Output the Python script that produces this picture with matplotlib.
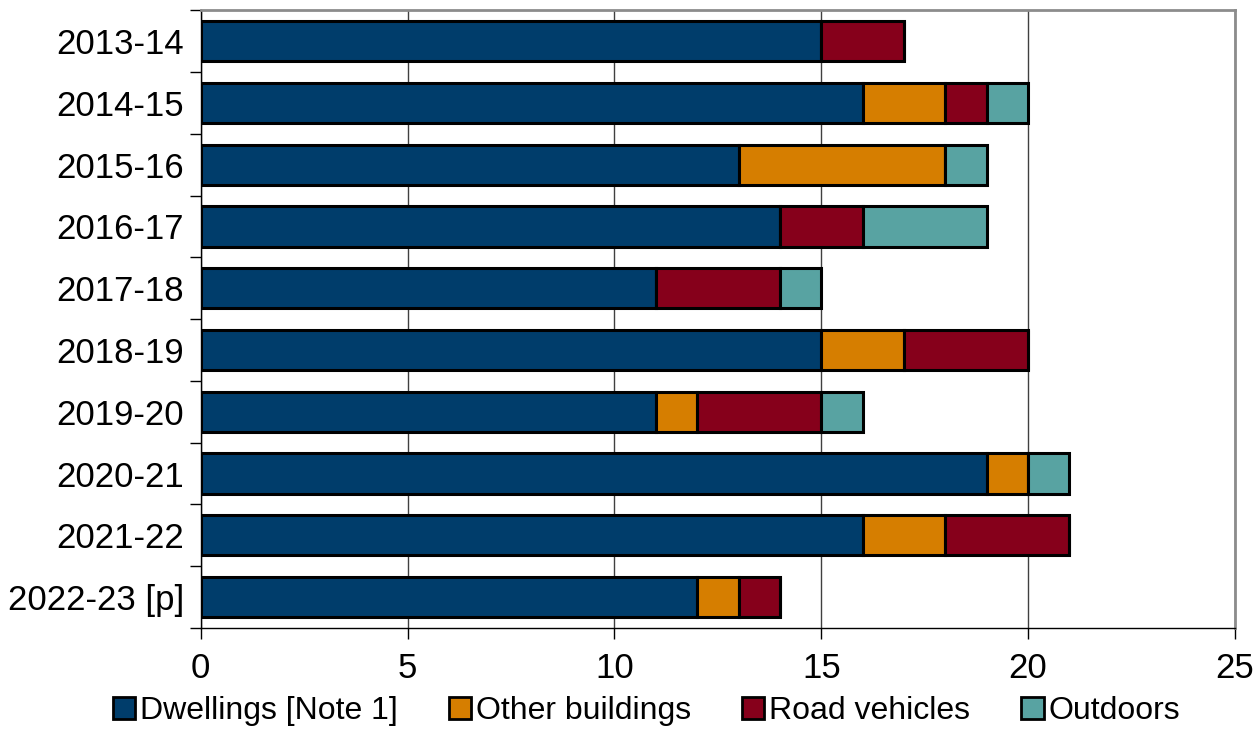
import numpy as np
import matplotlib.pyplot as plt
from matplotlib.patches import Patch

plt.rcParams['font.family'] = ['Liberation Sans', 'DejaVu Sans']

years = ['2013-14', '2014-15', '2015-16', '2016-17', '2017-18',
         '2018-19', '2019-20', '2020-21', '2021-22', '2022-23 [p]']
dwellings = [15, 16, 13, 14, 11, 15, 11, 19, 16, 12]
other_buildings = [0, 2, 5, 0, 0, 2, 1, 1, 2, 1]
road_vehicles = [2, 1, 0, 2, 3, 3, 3, 0, 3, 1]
outdoors = [0, 1, 1, 3, 1, 0, 1, 1, 0, 0]

series = [
    ('Dwellings [Note 1]', dwellings, '#003D6B'),
    ('Other buildings', other_buildings, '#D67E00'),
    ('Road vehicles', road_vehicles, '#86001B'),
    ('Outdoors', outdoors, '#58A3A2'),
]

fig = plt.figure(figsize=(12.55, 7.31), dpi=100)
ax = fig.add_axes([0.160, 0.141, 0.824, 0.845])

y = np.arange(len(years))
left = np.zeros(len(years))
for name, vals, col in series:
    vals = np.array(vals, dtype=float)
    ax.barh(y, vals, left=left, height=0.65, color=col,
            edgecolor='black', linewidth=2.2, zorder=3)
    left += vals

ax.set_ylim(len(years) - 0.5, -0.5)
ax.set_xlim(0, 25)
ax.set_yticks(y)
ax.set_yticklabels(years)
ax.set_xticks(np.arange(0, 26, 5))
ax.tick_params(axis='y', length=0, labelsize=25, pad=12)
ax.tick_params(axis='x', direction='out', length=8, width=1, color='black',
               labelsize=25, pad=9)

# category separators on the left axis
ax.set_yticks(np.arange(-0.5, len(years)), minor=True)
ax.tick_params(axis='y', which='minor', length=8, width=1, color='black', direction='out')

ax.grid(axis='x', color='#404040', linewidth=1, zorder=0)
for s in ['top', 'right']:
    ax.spines[s].set_color('#8c8c8c')
    ax.spines[s].set_linewidth(2)
ax.spines['left'].set_color('black')
ax.spines['bottom'].set_color('black')
ax.spines['left'].set_linewidth(1)
ax.spines['bottom'].set_linewidth(1)

handles = [Patch(facecolor=c, edgecolor='black', linewidth=2, label=n) for n, _, c in series]
fig.legend(handles=handles, loc='lower center', ncol=4, frameon=False,
           fontsize=23, bbox_to_anchor=(0.515, -0.033), handlelength=0.7,
           handleheight=0.7, handletextpad=0.15, columnspacing=1.6)

fig.savefig('out.png', dpi=100)
